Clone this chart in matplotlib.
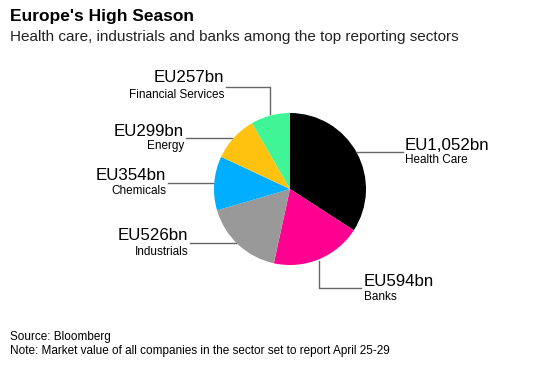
import matplotlib.pyplot as plt

# data
sectors = ['Health Care', 'Banks', 'Industrials', 'Chemicals', 'Energy',
           'Financial Services']
values = [1052, 594, 526, 354, 299, 257]
value_labels = ['EU1,052bn', 'EU594bn', 'EU526bn', 'EU354bn', 'EU299bn',
                'EU257bn']
colors = ['#000000', '#ff0090', '#999999', '#00aeff', '#ffc20e', '#40f595']

plt.rcParams['font.family'] = ['Liberation Sans', 'DejaVu Sans']

W, H = 547, 371
fig = plt.figure(figsize=(W / 100, H / 100), dpi=100)
ax = fig.add_axes([0, 0, 1, 1])


def py(y):
    # pixel row (top-down) to data y
    return H - y


cx, cy, r = 290, 189, 76
ax.pie(values, colors=colors, startangle=90, counterclock=False,
       center=(cx, py(cy)), radius=r, frame=True,
       wedgeprops=dict(linewidth=0))
ax.set_xlim(0, W)
ax.set_ylim(0, H)
ax.set_aspect('auto')
ax.axis('off')

line_kw = dict(color='#666666', lw=1)
big, small = 12.2, 8.5

# leader lines and labels (pixel layout)
# Health Care
ax.plot([357, 403], [py(152), py(152)], **line_kw)
ax.text(405, py(145), value_labels[0], fontsize=big, va='center', ha='left')
ax.text(405, py(160), sectors[0], fontsize=small, va='center', ha='left')
# Banks
ax.plot([319, 319, 361], [py(261), py(288), py(288)], **line_kw)
ax.text(364, py(282), value_labels[1], fontsize=big, va='center', ha='left')
ax.text(364, py(297), sectors[1], fontsize=small, va='center', ha='left')
# Industrials
ax.plot([236, 190], [py(243), py(243)], **line_kw)
ax.text(188, py(236), value_labels[2], fontsize=big, va='center', ha='right')
ax.text(188, py(252), sectors[2], fontsize=small, va='center', ha='right')
# Chemicals
ax.plot([213, 168], [py(183), py(183)], **line_kw)
ax.text(166, py(176), value_labels[3], fontsize=big, va='center', ha='right')
ax.text(166, py(191), sectors[3], fontsize=small, va='center', ha='right')
# Energy
ax.plot([232, 186], [py(138), py(138)], **line_kw)
ax.text(184, py(131), value_labels[4], fontsize=big, va='center', ha='right')
ax.text(184, py(146), sectors[4], fontsize=small, va='center', ha='right')
# Financial Services
ax.plot([270, 270, 226], [py(114), py(87), py(87)], **line_kw)
ax.text(224, py(77), value_labels[5], fontsize=big, va='center', ha='right')
ax.text(224, py(95), sectors[5], fontsize=small, va='center', ha='right')

# titles and notes
ax.text(10, py(17), "Europe's High Season", fontsize=12.5, fontweight='bold',
        va='center', ha='left')
ax.text(10, py(37), 'Health care, industrials and banks among the top reporting sectors',
        fontsize=11, va='center', ha='left', color='#222222')
ax.text(10, py(337), 'Source: Bloomberg', fontsize=8.5, va='center', ha='left')
ax.text(10, py(351), 'Note: Market value of all companies in the sector set to report April 25-29',
        fontsize=8.5, va='center', ha='left')

fig.savefig('out.png', dpi=100)
